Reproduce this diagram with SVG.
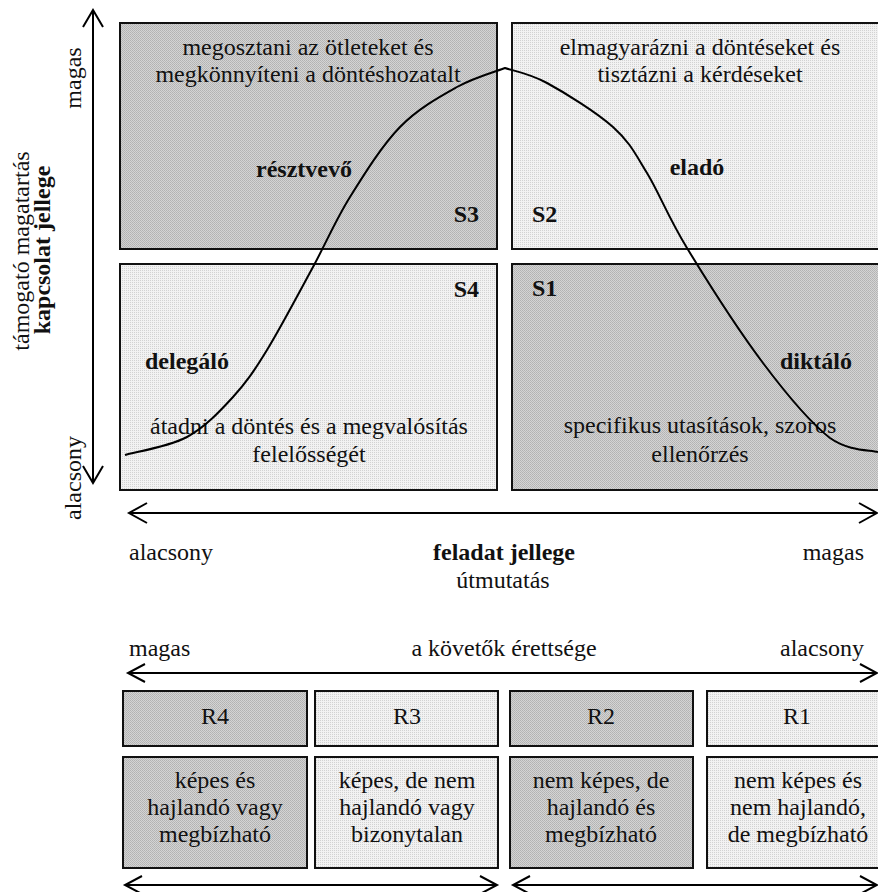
<svg xmlns="http://www.w3.org/2000/svg" width="878" height="892" viewBox="0 0 878 892">
  <style>
    .box { stroke: #111; stroke-width: 2; }
    .dark { fill: url(#dotsDark); }
    .light { fill: url(#dotsLight); }
    text { font-family: "Liberation Serif", "Times New Roman", serif; font-size: 24px; fill: #111; }
    .c { text-anchor: middle; }
    .e { text-anchor: end; }
    .b { font-weight: bold; }
    .ax { fill: none; stroke: #000; stroke-width: 2; }
    .curve { fill: none; stroke: #000; stroke-width: 2; }
  </style>
  <defs>
    <!-- fine dither textures for the shaded cells -->
    <pattern id="dotsDark" patternUnits="userSpaceOnUse" width="2" height="2">
      <rect width="2" height="2" fill="#d4d4d4"/>
      <rect width="1" height="1" fill="#b2b2b2"/>
      <rect x="1" y="1" width="1" height="1" fill="#b8b8b8"/>
    </pattern>
    <pattern id="dotsLight" patternUnits="userSpaceOnUse" width="2" height="2">
      <rect width="2" height="2" fill="#f2f2f2"/>
      <rect width="1" height="1" fill="#d2d2d2"/>
    </pattern>
  </defs>

  <rect width="878" height="892" fill="#fff"/>

  <!-- style quadrants -->
  <g id="s3">
    <rect class="box dark" x="120" y="23" width="377" height="226"/>
    <text class="c" x="308" y="55">megosztani az ötleteket és</text>
    <text class="c" x="308" y="82">megkönnyíteni a döntéshozatalt</text>
    <text class="c b" x="304" y="177">résztvevő</text>
    <text class="e b" x="479" y="222">S3</text>
  </g>
  <g id="s2">
    <rect class="box light" x="512" y="23" width="380" height="226"/>
    <text class="c" x="700" y="55">elmagyarázni a döntéseket és</text>
    <text class="c" x="700" y="82">tisztázni a kérdéseket</text>
    <text class="c b" x="697" y="175">eladó</text>
    <text class="b" x="532" y="222">S2</text>
  </g>
  <g id="s4">
    <rect class="box light" x="120" y="264" width="377" height="226"/>
    <text class="e b" x="479" y="297">S4</text>
    <text class="b" x="145" y="369">delegáló</text>
    <text class="c" x="309" y="434">átadni a döntés és a megvalósítás</text>
    <text class="c" x="309" y="462">felelősségét</text>
  </g>
  <g id="s1">
    <rect class="box dark" x="512" y="264" width="380" height="226"/>
    <text class="b" x="532" y="296">S1</text>
    <text class="b" x="780" y="369">diktáló</text>
    <text class="c" x="700" y="433">specifikus utasítások, szoros</text>
    <text class="c" x="700" y="462">ellenőrzés</text>
  </g>

  <!-- readiness levels -->
  <g id="r4">
    <rect class="box dark" x="123" y="691" width="184" height="55"/>
    <rect class="box dark" x="123" y="757" width="184" height="111"/>
    <text class="c" x="215" y="724">R4</text>
    <text class="c" x="215" y="788">képes és</text>
    <text class="c" x="215" y="815">hajlandó vagy</text>
    <text class="c" x="215" y="842">megbízható</text>
  </g>
  <g id="r3">
    <rect class="box light" x="315" y="691" width="183" height="55"/>
    <rect class="box light" x="315" y="757" width="183" height="111"/>
    <text class="c" x="407" y="724">R3</text>
    <text class="c" x="407" y="788">képes, de nem</text>
    <text class="c" x="407" y="815">hajlandó vagy</text>
    <text class="c" x="407" y="842">bizonytalan</text>
  </g>
  <g id="r2">
    <rect class="box dark" x="510" y="691" width="183" height="55"/>
    <rect class="box dark" x="510" y="757" width="183" height="111"/>
    <text class="c" x="601" y="724">R2</text>
    <text class="c" x="601" y="788">nem képes, de</text>
    <text class="c" x="601" y="815">hajlandó és</text>
    <text class="c" x="601" y="842">megbízható</text>
  </g>
  <g id="r1">
    <rect class="box light" x="707" y="691" width="180" height="55"/>
    <rect class="box light" x="707" y="757" width="180" height="111"/>
    <text class="c" x="797" y="724">R1</text>
    <text class="c" x="798" y="788">nem képes és</text>
    <text class="c" x="798" y="815">nem hajlandó,</text>
    <text class="c" x="798" y="842">de megbízható</text>
  </g>

  <!-- axis labels -->
  <g id="labels">
    <text class="c" transform="translate(81,78) rotate(-90)">magas</text>
    <text class="c" transform="translate(81,478) rotate(-90)">alacsony</text>
    <text class="c" transform="translate(29,251) rotate(-90)">támogató magatartás</text>
    <text class="c b" transform="translate(50,250) rotate(-90)">kapcsolat jellege</text>
    <text x="129" y="560">alacsony</text>
    <text class="c b" x="504" y="560">feladat jellege</text>
    <text class="c" x="503" y="588">útmutatás</text>
    <text class="e" x="864" y="560">magas</text>
    <text x="129" y="656">magas</text>
    <text class="c" x="504" y="656">a követők érettsége</text>
    <text class="e" x="864" y="656">alacsony</text>
  </g>

  <!-- axes, arrows and the style curve -->
  <g id="connectors">
    <line class="ax" x1="93" y1="10" x2="93" y2="483"/>
    <polyline class="ax" points="83,27 93,10 103,27"/>
    <polyline class="ax" points="83,466 93,483 103,466"/>

    <line class="ax" x1="129" y1="513" x2="877" y2="513"/>
    <polyline class="ax" points="147,503 129,513 147,523"/>
    <polyline class="ax" points="859,503 877,513 859,523"/>

    <line class="ax" x1="128" y1="673" x2="877" y2="673"/>
    <polyline class="ax" points="145,664 128,673 145,682"/>
    <polyline class="ax" points="860,664 877,673 860,682"/>

    <line class="ax" x1="125" y1="885" x2="497" y2="885"/>
    <polyline class="ax" points="142,876 125,885 142,894"/>
    <polyline class="ax" points="480,876 497,885 480,894"/>

    <line class="ax" x1="513" y1="885" x2="877" y2="885"/>
    <polyline class="ax" points="530,876 513,885 530,894"/>
    <polyline class="ax" points="860,876 877,885 860,894"/>

    <path class="curve" d="M125,455 C135.3,452 169,446.7 187,437 C205,427.3 219.7,411.5 233,397 C246.3,382.5 253.7,371.7 267,350 C280.3,328.3 299.2,292.5 313,267 C326.8,241.5 335.5,220.3 350,197 C364.5,173.7 382.2,145.3 400,127 C417.8,108.7 439.5,96.8 457,87 C474.5,77.2 497,71.2 505,68 C512,70.5 529,73.2 547,83 C565,92.8 596.3,112 613,127 C629.7,142 634.7,152.8 647,173 C659.3,193.2 667.7,216.3 687,248 C706.3,279.7 739.2,331.3 763,363 C786.8,394.7 810.8,423.2 830,438 C849.2,451.5 870,449.7 878,452"/>
  </g>
</svg>
